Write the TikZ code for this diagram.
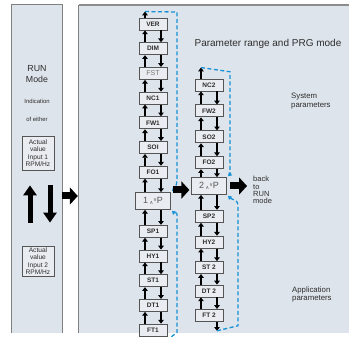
\documentclass[tikz,border=0pt]{standalone}
\usepackage{fontspec}
\setmainfont{Liberation Sans}
\newfontfamily\symfont{DejaVu Sans}
\usepackage{graphicx}
\usepackage{tikz}
\usetikzlibrary{arrows.meta, positioning, calc}
\definecolor{panelbg}{RGB}{222,228,235}
\definecolor{boxbg}{RGB}{233,237,241}
\definecolor{frame}{RGB}{85,85,85}
\definecolor{txt}{RGB}{45,45,45}
\definecolor{loopblue}{RGB}{20,145,215}
\newcommand{\updn}[1]{#1\,\raisebox{-1pt}{\symfont\fontsize{5}{5}\selectfont ∧}\raisebox{2.4pt}{\symfont\fontsize{5}{5}\selectfont ∨}P}

\begin{document}
\begin{tikzpicture}[x=1pt, y=-1pt,
  panel/.style={rectangle, fill=panelbg, inner sep=0pt},
  prm/.style={rectangle, draw=frame, fill=boxbg, line width=0.9pt, minimum width=28pt,
    minimum height=12pt, inner sep=0pt, font=\fontsize{6.5}{7}\selectfont\bfseries, text=txt},
  prog/.style={prm, minimum width=35pt, minimum height=16.5pt, line width=1.2pt,
    font=\fontsize{9}{9}\selectfont, text=frame},
  inbox/.style={rectangle, draw=frame, fill=boxbg, line width=0.7pt, minimum width=32pt,
    inner sep=0.5pt, align=center, font=\fontsize{6.6}{7.3}\selectfont, text=txt},
  lbl/.style={font=\fontsize{7.8}{8.2}\selectfont, text=txt, align=left, inner sep=0pt},
  arr/.style={-{Triangle[length=3.8pt,width=5.5pt]}, line width=1.6pt},
  bigarr/.style={-{Triangle[length=8pt,width=17pt]}, line width=7pt},
  fatarr/.style={-{Triangle[length=10pt,width=13pt]}, line width=5pt},
  dashloop/.style={-{Triangle[length=3.5pt,width=4.5pt]}, draw=loopblue, line width=1.3pt,
    dash pattern=on 4pt off 2.5pt}
]
\useasboundingbox (0,0) rectangle (349,337);

% Panels
\node[panel, minimum width=50pt, minimum height=328pt] (run) at (37,169) {};
\node[panel, minimum width=270pt, minimum height=328pt] (prg) at (214,169) {};
\draw[gray, line width=0.8pt] (run.south west) -- (run.north west) -- (run.north east) -- (run.south east);
\draw[gray, line width=0.8pt] (prg.south west) -- (prg.north west);
\draw[gray!90, line width=1.6pt] (prg.north west) -- (prg.north east);

% RUN mode panel
\node[font=\fontsize{8.8}{10.5}\selectfont, align=center, text=txt] (mode) at (37,74) {RUN\\Mode};
\node[font=\fontsize{5.9}{6}\selectfont, text=txt] (ind) at (37,101.5) {Indication};
\node[font=\fontsize{5.9}{6}\selectfont, text=txt] (either) at (37,119) {of either};
\node[inbox, minimum height=34pt] (in1) at (38,153) {Actual\\value\\Input 1\\RPM/Hz};
\node[inbox, minimum height=30pt] (in2) at (38,261) {Actual\\value\\Input 2\\RPM/Hz};
\draw[fatarr] ([xshift=-8pt,yshift=23pt]in2.north) -- ([xshift=-8pt,yshift=-15pt]in1.south);
\draw[fatarr] ([xshift=12pt,yshift=-15pt]in1.south) -- ([xshift=12pt,yshift=23pt]in2.north);

% PRG panel texts
\node[font=\fontsize{10}{10}\selectfont, text=txt] (title) at (268,44) {Parameter range and PRG mode};
\node[lbl, anchor=west] (sys) at (291,101) {System\\parameters};
\node[lbl, anchor=west] (app) at (292,294.5) {Application\\parameters};
\node[lbl, anchor=west, font=\fontsize{7.5}{7.2}\selectfont] (back) at (253,190) {back\\to\\RUN\\mode};

% Column 1
\node[prm] (ver) at (153,24) {VER};
\node[prm, below=11.8pt of ver] (dim) {DIM};
\node[prm, below=11.8pt of dim, font=\fontsize{7}{7}\selectfont, text=gray!90!black] (fst) {FST};
\node[prm, below=11.8pt of fst] (nc1) {NC1};
\node[prm, below=11.8pt of nc1] (fw1) {FW1};
\node[prm, below=11.8pt of fw1] (so1) {SOI};
\node[prm, below=11.8pt of so1] (fo1) {FO1};
\node[prog, below=13.5pt of fo1] (p1) {\updn{1}};
\node[prm, below=15pt of p1] (sp1) {SP1};
\node[prm, below=11.8pt of sp1] (hy1) {HY1};
\node[prm, below=11.8pt of hy1] (st1) {ST1};
\node[prm, below=11.8pt of st1] (dt1) {DT1};
\node[prm, below=11.8pt of dt1] (ft1) {FT1};

% Column 2
\node[prog] (p2) at (209,186) {\updn{2}};
\node[prm, above=8pt of p2] (fo2) {FO2};
\node[prm, above=13pt of fo2] (so2) {SO2};
\node[prm, above=13pt of so2] (fw2) {FW2};
\node[prm, above=13pt of fw2] (nc2) {NC2};
\node[prm, below=15pt of p2] (sp2) {SP2};
\node[prm, below=13pt of sp2] (hy2) {HY2};
\node[prm, below=12.5pt of hy2] (st2) {ST 2};
\node[prm, below=10.5pt of st2] (dt2) {DT 2};
\node[prm, below=11.5pt of dt2] (ft2) {FT 2};

% Up/down steps
\foreach \a/\b in {ver/dim, dim/fst, fst/nc1, nc1/fw1, fw1/so1, so1/fo1, fo1/p1, p1/sp1,
    sp1/hy1, hy1/st1, st1/dt1, dt1/ft1, nc2/fw2, fw2/so2, so2/fo2, fo2/p2, p2/sp2,
    sp2/hy2, hy2/st2, st2/dt2, dt2/ft2} {
  \draw[arr] ([xshift=-8pt]\b.north) -- ([xshift=-8pt]\a.south);
  \draw[arr] ([xshift=8pt]\a.south) -- ([xshift=8pt]\b.north);
}

% Wrap-around loops
\coordinate (t1) at ([xshift=-8pt,yshift=6pt]ver.north);
\coordinate (b1) at ([xshift=8pt,yshift=-8pt]ft1.south);
\coordinate (t2) at ([xshift=-8pt,yshift=11pt]nc2.north);
\coordinate (b2) at ([xshift=8pt,yshift=-9pt]ft2.south);
\draw[arr] ([xshift=-8pt]ver.north) -- (t1);
\draw[arr] ([xshift=8pt]ft1.south) -- (b1);
\draw[arr] ([xshift=-8pt]nc2.north) -- (t2);
\draw[arr] ([xshift=8pt]ft2.south) -- (b2);
\draw[dashloop] (t1) -- (177,12) -- (177,176) to[out=-90, in=45] ([shift={(1pt,1pt)}]p1.north east);
\draw[dashloop] (b1) -- (177,332.5) -- (177,214) to[out=90, in=-45] ([shift={(1pt,-1pt)}]p1.south east);
\draw[dashloop] (t2) -- (230,71.75) -- (230,168) to[out=-90, in=45] ([shift={(1pt,1pt)}]p2.north east);
\draw[dashloop] (b2) -- (238,325.75) -- (238,205) to[out=90, in=-45] ([shift={(1pt,-1pt)}]p2.south east);

% Block arrows
\draw[bigarr] (run.east |- 0,196) -- ([xshift=-1pt]prg.west |- 0,196);
\draw[bigarr, shorten <=2pt, shorten >=1.5pt] (p1.east |- 0,190) -- (p2.west |- 0,190);
\draw[bigarr, shorten <=3pt, shorten >=6pt] (p2.east) -- (p2.east -| back.west);

\end{tikzpicture}
\end{document}
